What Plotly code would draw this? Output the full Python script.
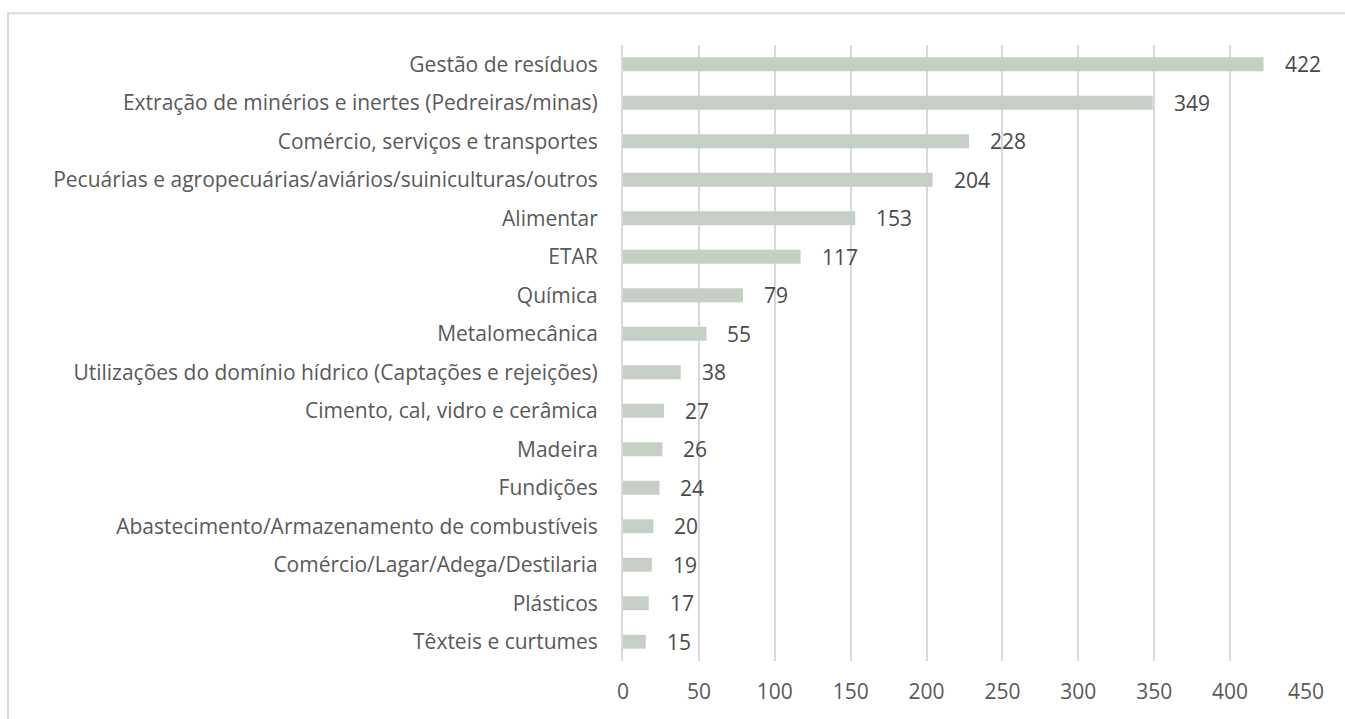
import plotly.graph_objects as go

categories = [
    "Gestão de resíduos",
    "Extração de minérios e inertes (Pedreiras/minas)",
    "Comércio, serviços e transportes",
    "Pecuárias e agropecuárias/aviários/suiniculturas/outros",
    "Alimentar",
    "ETAR",
    "Química",
    "Metalomecânica",
    "Utilizações do domínio hídrico (Captações e rejeições)",
    "Cimento, cal, vidro e cerâmica",
    "Madeira",
    "Fundições",
    "Abastecimento/Armazenamento de combustíveis",
    "Comércio/Lagar/Adega/Destilaria",
    "Plásticos",
    "Têxteis e curtumes",
]
values = [422, 349, 228, 204, 153, 117, 79, 55, 38, 27, 26, 24, 20, 19, 17, 15]
x_ticks = [0, 50, 100, 150, 200, 250, 300, 350, 400, 450]

FONT = "Open Sans"
TXT = "#595959"
FS = 21

fig = go.Figure()
fig.add_trace(go.Bar(
    x=values, y=categories, orientation="h",
    marker=dict(color="#c5cfc6", line=dict(width=0)),
    hoverinfo="x+y",
))

for c, v in zip(categories, values):
    fig.add_annotation(x=v, y=c, text=str(v), showarrow=False,
                       xanchor="left", xshift=19, yshift=0,
                       font=dict(family=FONT, size=FS, color="#4a4a4a"))

W, H = 1345, 719
L, R, T, B = 623, 1306, 44.75, 661
ph = B - T
pw = R - L
fig.add_shape(type="rect", xref="paper", yref="paper",
              x0=(8 - L) / pw, x1=(1400 - L) / pw,
              y0=(B - 760) / ph, y1=(B - 13) / ph,
              line=dict(color="#d9d9d9", width=2), fillcolor="rgba(0,0,0,0)", layer="below")

fig.update_layout(
    width=W, height=H,
    margin=dict(l=L, r=W - R, t=T, b=H - B, autoexpand=False),
    paper_bgcolor="white", plot_bgcolor="white",
    bargap=0.64,
    showlegend=False,
    font=dict(family=FONT, size=FS, color=TXT),
    xaxis=dict(range=[0, 450], tickvals=x_ticks, showgrid=True,
               gridcolor="#d9d9d9", gridwidth=2, zeroline=False,
               showline=False, ticks="", ticklabelstandoff=16,
               tickfont=dict(family=FONT, size=FS, color=TXT)),
    yaxis=dict(autorange="reversed", showgrid=False, zeroline=False,
               showline=True, linecolor="#d9d9d9", linewidth=2,
               ticks="", ticklabelstandoff=19,
               tickfont=dict(family=FONT, size=FS, color=TXT)),
)

fig.write_html("out.html", config={"displayModeBar": False},
               post_script="document.body.style.margin='0';document.body.style.overflow='hidden';")
